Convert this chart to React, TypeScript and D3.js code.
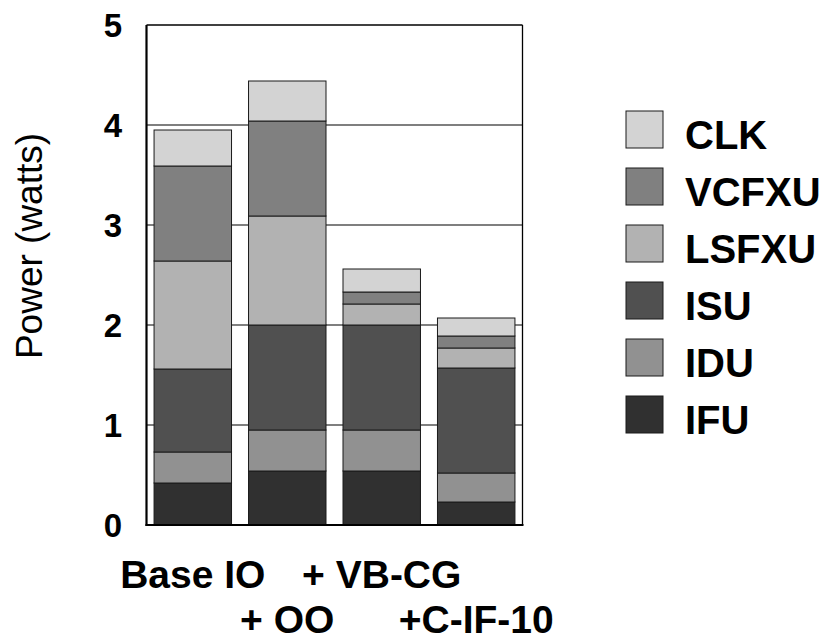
import React from "react";
import * as d3 from "d3";

const categories = ["Base IO", "+ OO", "+ VB-CG", "+C-IF-10"];
const seriesKeys = ["IFU", "IDU", "ISU", "LSFXU", "VCFXU", "CLK"];
const IFU = [0.42, 0.54, 0.54, 0.23];
const IDU = [0.31, 0.41, 0.41, 0.29];
const ISU = [0.83, 1.05, 1.05, 1.05];
const LSFXU = [1.08, 1.09, 0.21, 0.2];
const VCFXU = [0.95, 0.95, 0.12, 0.12];
const CLK = [0.36, 0.4, 0.23, 0.18];
const colors: Record<string, string> = {
  IFU: "#303030",
  IDU: "#919191",
  ISU: "#505050",
  LSFXU: "#b2b2b2",
  VCFXU: "#808080",
  CLK: "#d3d3d3",
};
const yTicks = [0, 1, 2, 3, 4, 5];
const legendOrder = ["CLK", "VCFXU", "LSFXU", "ISU", "IDU", "IFU"];

const FONT = "'Liberation Sans', Arial, Helvetica, sans-serif";

export default function App() {
  const W = 827;
  const H = 642;
  const left = 146.5;
  const right = 522.5;
  const top = 25;
  const bottom = 525;

  const seriesValues: Record<string, number[]> = { IFU, IDU, ISU, LSFXU, VCFXU, CLK };
  const table = categories.map((c, i) => {
    const row: any = { cat: c };
    seriesKeys.forEach((k) => (row[k] = seriesValues[k][i]));
    return row;
  });
  const stacked = d3.stack<any>().keys(seriesKeys)(table);

  const x = d3
    .scaleBand<string>()
    .domain(categories)
    .range([left, right])
    .paddingInner(0.18)
    .paddingOuter(0.08);
  const y = d3.scaleLinear().domain([0, 5]).range([bottom, top]);

  return (
    <svg
      width={W}
      height={H}
      style={{ position: "absolute", left: 0, top: 0, background: "#fff" }}
      fontFamily={FONT}
    >
      <rect x={0} y={0} width={W} height={H} fill="#fff" />
      {yTicks
        .filter((t) => t > 0 && t < 5)
        .map((t) => (
          <line
            key={"g" + t}
            x1={left}
            x2={right}
            y1={y(t)}
            y2={y(t)}
            stroke="#000"
            strokeWidth={1.2}
          />
        ))}
      {stacked.map((s) => (
        <g key={s.key}>
          {s.map((d, i) => (
            <rect
              key={i}
              x={x(categories[i])!}
              width={x.bandwidth()}
              y={y(d[1])}
              height={y(d[0]) - y(d[1])}
              fill={colors[s.key]}
              stroke="#1a1a1a"
              strokeWidth={1}
            />
          ))}
        </g>
      ))}
      <line x1={left} x2={right} y1={top} y2={top} stroke="#000" strokeWidth={1.3} />
      <line x1={right} x2={right} y1={top} y2={bottom} stroke="#000" strokeWidth={1.3} />
      <line x1={left} x2={left} y1={top} y2={bottom + 1} stroke="#000" strokeWidth={2.2} />
      <line x1={left - 1} x2={right + 1} y1={bottom} y2={bottom} stroke="#000" strokeWidth={2.2} />
      {yTicks.map((t) => (
        <text
          key={"t" + t}
          x={122}
          y={y(t) + 11.5}
          textAnchor="end"
          fontSize={33}
          fontWeight="bold"
          fill="#000"
        >
          {t}
        </text>
      ))}
      <text
        transform="translate(42,246) rotate(-90)"
        textAnchor="middle"
        fontSize={37}
        fill="#000"
      >
        Power (watts)
      </text>
      {categories.map((c, i) => (
        <text
          key={"x" + c}
          x={x(c)! + x.bandwidth() / 2}
          y={i % 2 === 0 ? 588 : 633}
          textAnchor="middle"
          fontSize={39}
          fontWeight="bold"
          fill="#000"
        >
          {c}
        </text>
      ))}
      {legendOrder.map((k, i) => (
        <g key={"l" + k} transform={`translate(626,${111 + i * 57})`}>
          <rect x={0} y={0} width={37} height={37} fill={colors[k]} stroke="#1a1a1a" strokeWidth={1} />
          <text x={59} y={38} fontSize={40} fontWeight="bold" fill="#000">
            {k}
          </text>
        </g>
      ))}
    </svg>
  );
}
